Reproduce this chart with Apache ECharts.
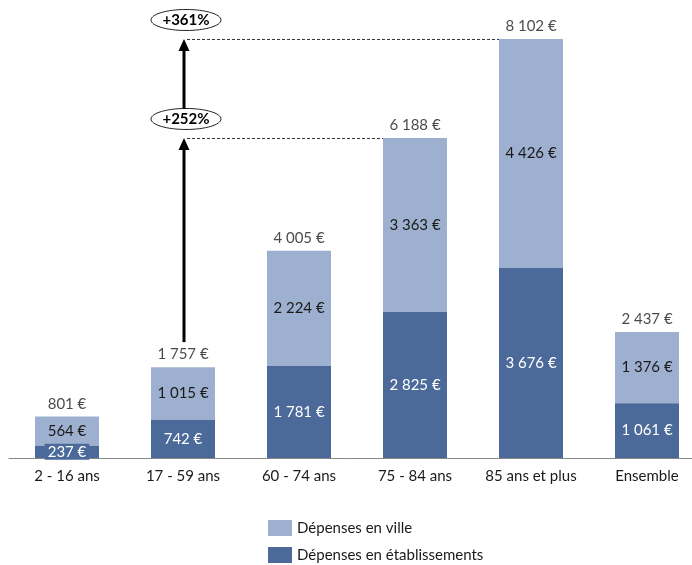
<!DOCTYPE html>
<html><head><meta charset="utf-8">
<script src="https://cdn.jsdelivr.net/npm/echarts@6/dist/echarts.min.js"></script>
<style>html,body{margin:0;padding:0;background:#fff}#c{width:692px;height:565px}</style>
</head><body><div id="c"></div>
<script>
const categories = ['2 - 16 ans', '17 - 59 ans', '60 - 74 ans', '75 - 84 ans', '85 ans et plus', 'Ensemble'];
const villeValues = [564, 1015, 2224, 3363, 4426, 1376];
const etabValues = [237, 742, 1781, 2825, 3676, 1061];
const seriesNames = ['Dépenses en ville', 'Dépenses en établissements'];
const growthLabels = ['+252%', '+361%'];
const growthRefIndex = 1;
const growthTargets = [3, 4];

const totals = villeValues.map((v, i) => v + etabValues[i]);
const fmt = v => String(v).replace(/\B(?=(\d{3})+(?!\d))/g, ' ') + ' €';

const FONT = 'Lato, "Open Sans", sans-serif';
const DARK = '#4b6a9a';
const LIGHT = '#9eb0cf';
const TXT = '#1a1a1a';
const BARW = 64;
const FS = 15;

const chart = echarts.init(document.getElementById('c'));

const growthData = growthTargets.map((t, i) => [growthRefIndex, i === 0 ? totals[growthRefIndex] : totals[growthTargets[i - 1]], totals[t], t]);

chart.setOption({
  animation: false,
  textStyle: { fontFamily: FONT },
  grid: { left: 9, width: 696, top: 18.4, height: 439.6, containLabel: false, outerBoundsMode: 'none' },
  legend: {
    data: seriesNames,
    orient: 'vertical', left: 268, top: 520, padding: 0,
    icon: 'rect', itemWidth: 24, itemHeight: 16, itemGap: 11,
    textStyle: { fontFamily: FONT, fontSize: FS, color: TXT }
  },
  xAxis: {
    type: 'category', data: categories,
    axisLine: { lineStyle: { color: '#888', width: 1 } },
    axisTick: { show: false },
    axisLabel: { fontFamily: FONT, fontSize: FS, color: TXT, margin: 11, interval: 0 }
  },
  yAxis: { type: 'value', min: 0, max: 8500, show: false, splitLine: { show: false } },
  series: [
    {
      name: seriesNames[1], type: 'bar', stack: 's', barWidth: BARW,
      itemStyle: { color: DARK },
      data: etabValues.map((v, i) => i === 0 ? {
        value: v,
        label: { backgroundColor: DARK, padding: [1, 3, 0, 3] }
      } : v),
      label: { show: true, position: 'inside', formatter: p => fmt(p.value), color: '#fff', fontSize: FS, fontFamily: FONT },
      z: 3
    },
    {
      name: seriesNames[0], type: 'bar', stack: 's', barWidth: BARW,
      itemStyle: { color: LIGHT },
      data: villeValues,
      label: { show: true, position: 'inside', formatter: p => fmt(p.value), color: TXT, fontSize: FS, fontFamily: FONT },
      z: 2
    },
    {
      name: 'total', type: 'scatter', symbolSize: 0, data: totals,
      label: { show: true, position: 'top', distance: 5, formatter: p => fmt(p.value), color: TXT, fontSize: FS, fontFamily: FONT },
      z: 4
    },
    {
      name: 'growth', type: 'custom', clip: false, z: 5,
      data: growthData,
      renderItem: function (params, api) {
        const i = params.dataIndex;
        const ref = api.value(0), fromV = api.value(1), toV = api.value(2), tgt = api.value(3);
        const base = api.coord([ref, fromV]);
        const tip = api.coord([ref, toV]);
        const x = base[0] + 1;
        const startY = i === 0 ? base[1] - 25 : base[1] - 29;
        const tipY = tip[1];
        const tgtX = api.coord([tgt, toV])[0] - BARW / 2;
        const cy = tipY - 19;
        return {
          type: 'group',
          children: [
            { type: 'line', shape: { x1: x + 3, y1: tipY + 0.5, x2: tgtX, y2: tipY + 0.5 }, style: { stroke: '#333', lineWidth: 1, lineDash: [3, 2] } },
            { type: 'line', shape: { x1: x, y1: startY, x2: x, y2: tipY + 8 }, style: { stroke: '#000', lineWidth: 3 } },
            { type: 'polygon', shape: { points: [[x, tipY], [x - 5.5, tipY + 12], [x + 5.5, tipY + 12]] }, style: { fill: '#000' } },
            { type: 'ellipse', shape: { cx: x + 2, cy: cy, rx: 35, ry: 10.5 }, style: { fill: '#fff', stroke: '#222', lineWidth: 1 } },
            { type: 'text', x: x + 2, y: cy, style: { text: growthLabels[i], fill: '#000', font: 'bold 15px ' + FONT, align: 'center', verticalAlign: 'middle' } }
          ]
        };
      }
    }
  ]
});
</script></body></html>
